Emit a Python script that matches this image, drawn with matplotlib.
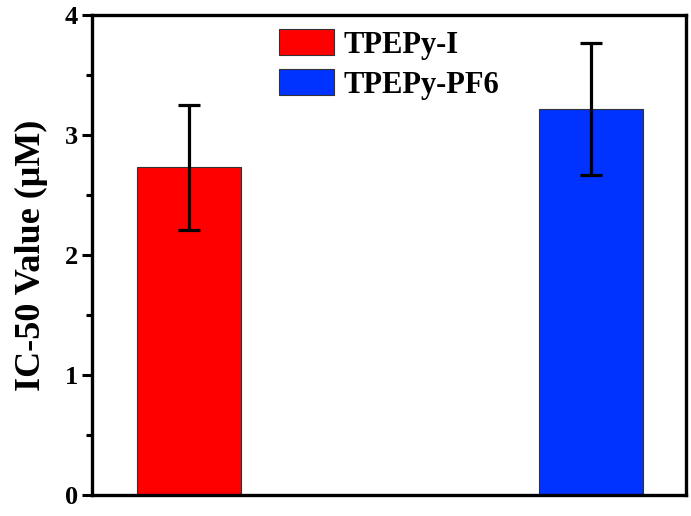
import numpy as np
import matplotlib.pyplot as plt
from matplotlib.ticker import MultipleLocator

# --- data ---
samples = ["TPEPy-I", "TPEPy-PF6"]
ic50 = [2.73, 3.22]
err = [0.52, 0.55]
colors = ["#ff0000", "#0033ff"]

plt.rcParams["font.family"] = ["Liberation Serif", "DejaVu Serif"]
plt.rcParams["font.weight"] = "bold"

fig = plt.figure(figsize=(6.91, 5.16), dpi=100)
ax = fig.add_axes([0.1331, 0.0407, 0.9928 - 0.1331, 0.9709 - 0.0407])

x = np.arange(1, len(samples) + 1)
for xi, v, e, c, lab in zip(x, ic50, err, colors, samples):
    ax.bar(xi, v, width=0.259, color=c, edgecolor="#333333", linewidth=0.8, label=lab, zorder=2)
    ax.errorbar(xi, v, yerr=e, fmt="none", ecolor="black", elinewidth=2.3,
                capsize=8, capthick=2.3, zorder=3)

ax.set_xlim(0.759, 2.236)
ax.set_ylim(0, 4)
ax.yaxis.set_major_locator(MultipleLocator(1))
ax.yaxis.set_minor_locator(MultipleLocator(0.5))
ax.set_xticks([])
ax.tick_params(axis="y", which="major", direction="out", length=7, width=2.2, labelsize=19, pad=3)
ax.tick_params(axis="y", which="minor", direction="out", length=4, width=2.2)
for s in ax.spines.values():
    s.set_linewidth(2.4)

ax.set_ylabel("IC-50 Value (\u03bcM)", fontsize=26, fontweight="bold", labelpad=12)

leg = ax.legend(loc="upper left", bbox_to_anchor=(279 / 691, 1 - 29 / 516), bbox_transform=fig.transFigure,
                frameon=False, fontsize=22, handlelength=1.8, handleheight=0.95,
                handletextpad=0.3, labelspacing=0.3, borderpad=0, borderaxespad=0)
for t in leg.get_texts():
    t.set_fontweight("bold")

plt.savefig("out.png", dpi=100)
